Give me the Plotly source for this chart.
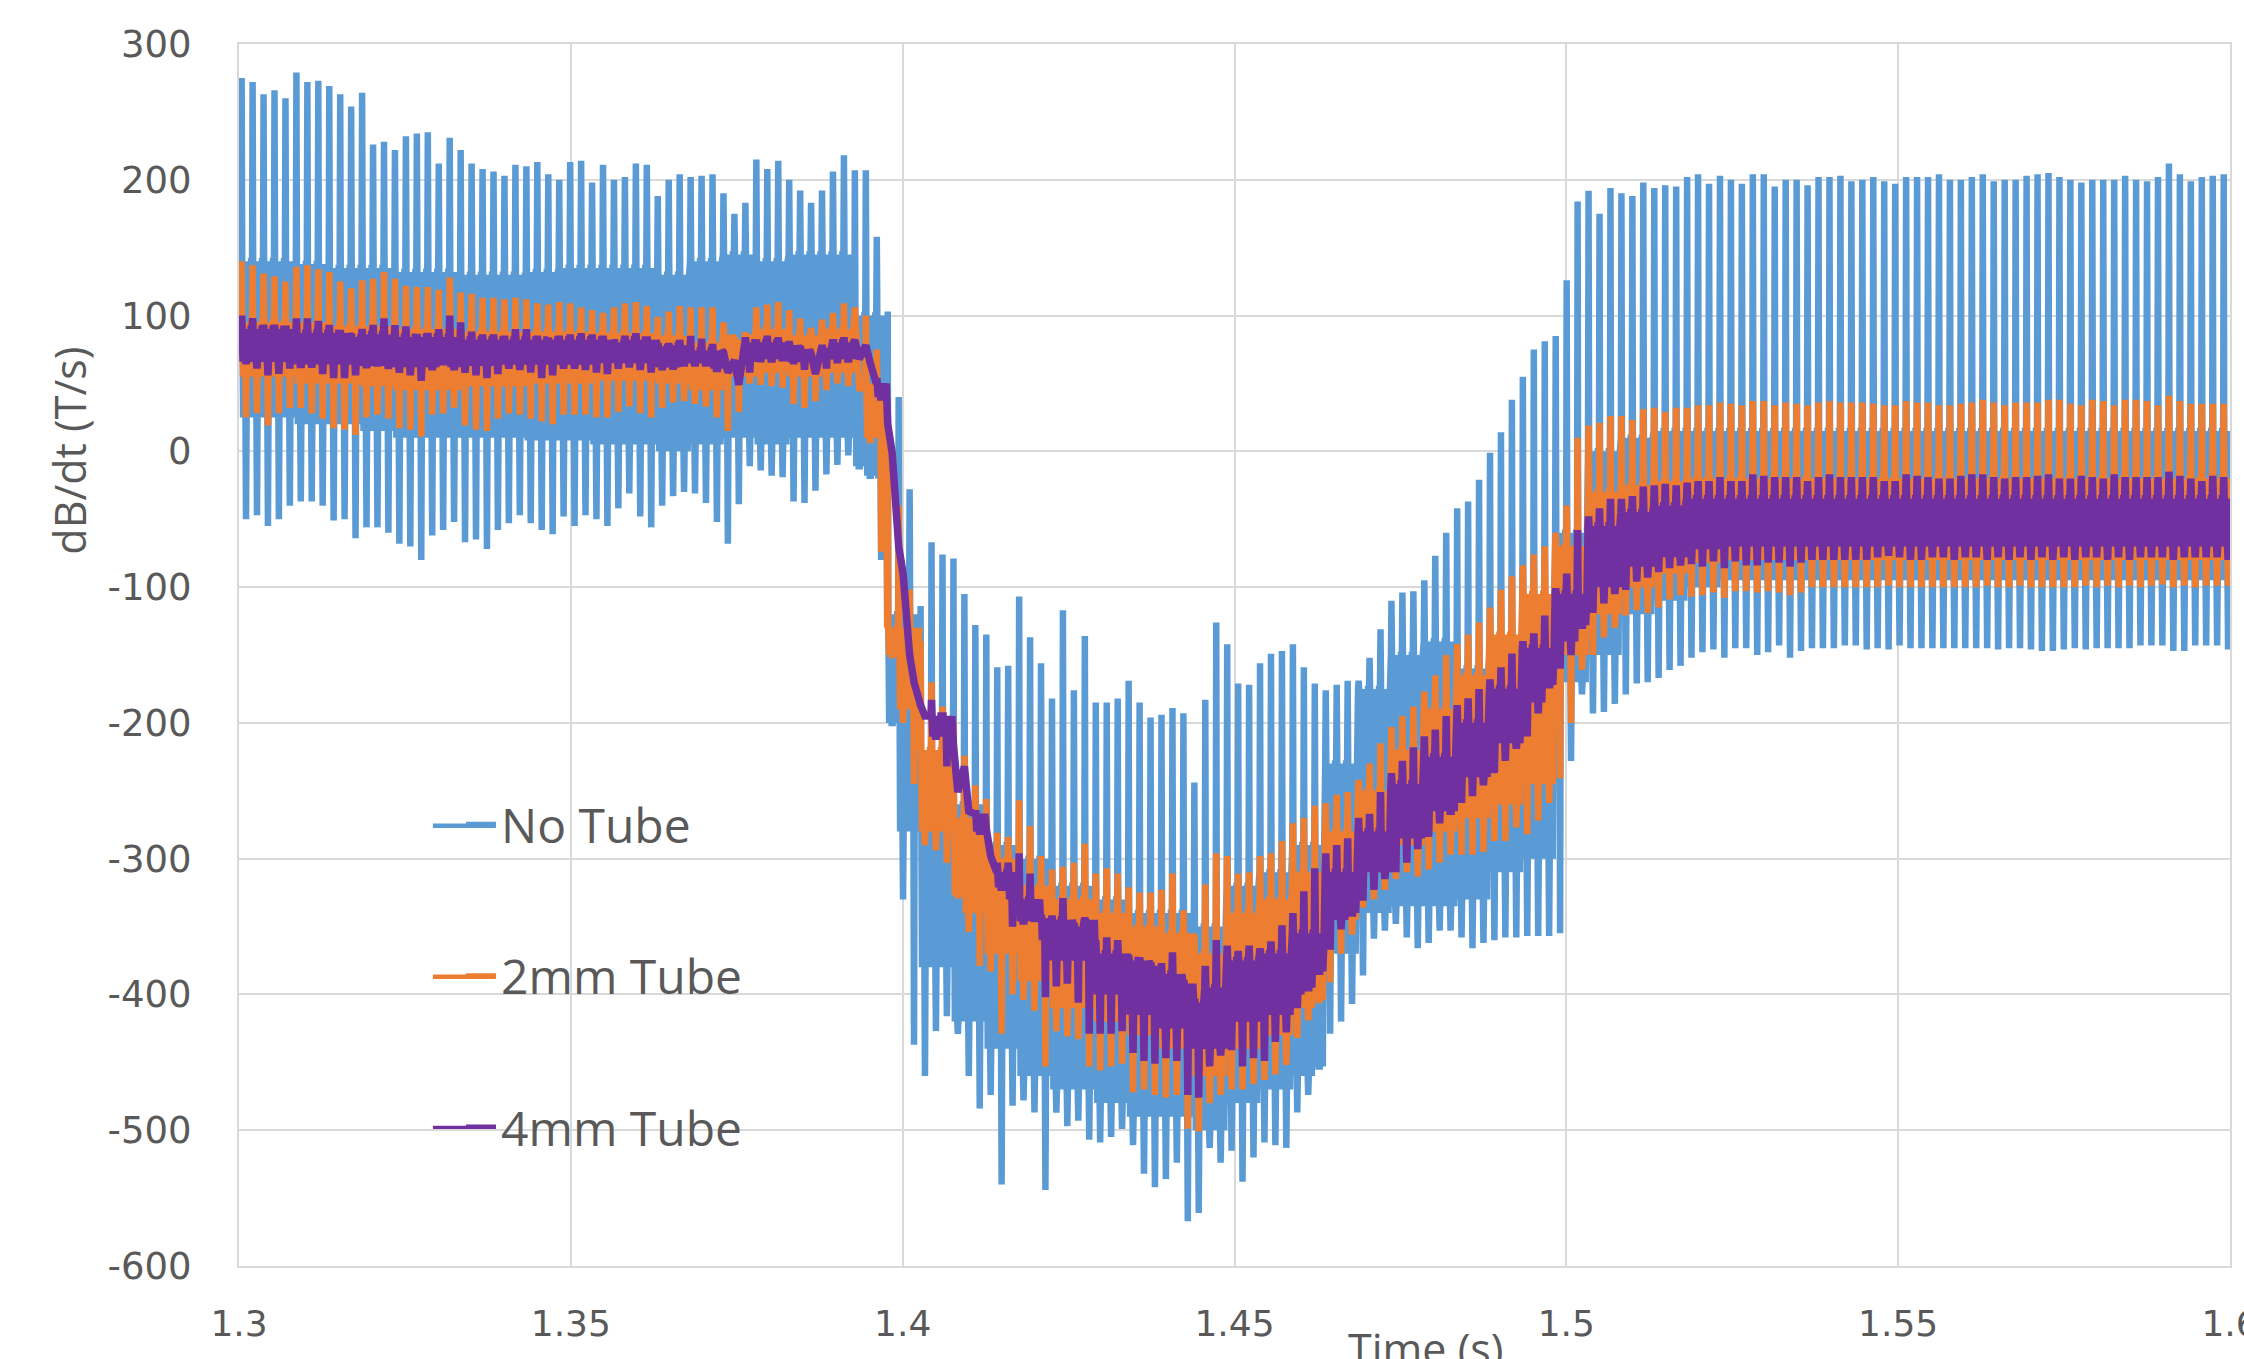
import plotly.graph_objects as go

# ---------------- data ----------------
# One oscillation cycle every PERIOD seconds, first cycle at T_START.
T_START = 1.3004
PERIOD = 0.00165

# Per-cycle upper spike (hi) and lower spike (lo) values, dB/dt in T/s
BLUE_HI = [
    275, 272, 263, 266, 260, 279, 272, 273, 269, 263,
    254, 264, 226, 228, 222, 232, 234, 235, 212, 231,
    222, 212, 208, 206, 203, 211, 210, 213, 204, 200,
    213, 214, 198, 211, 200, 202, 212, 211, 188, 200,
    204, 202, 203, 204, 190, 175, 183, 215, 208, 214,
    200, 192, 183, 192, 206, 218, 207, 207, 158, 103,
    40, -28, -114, -67, -76, -79, -105, -128, -135, -159,
    -158, -107, -137, -156, -182, -117, -176, -136, -185, -185,
    -182, -169, -185, -196, -194, -189, -193, -244, -183, -126,
    -142, -171, -172, -156, -149, -147, -142, -159, -171, -176,
    -172, -169, -169, -152, -131, -110, -104, -103, -95, -77,
    -60, -42, -37, -21, -1, 14, 38, 55, 75, 81,
    85, 126, 184, 192, 175, 194, 190, 188, 198, 194,
    196, 195, 202, 204, 197, 203, 200, 197, 204, 204,
    195, 200, 200, 196, 202, 202, 203, 199, 200, 202,
    199, 197, 202, 202, 202, 204, 200, 200, 202, 204,
    199, 200, 200, 203, 204, 205, 202, 200, 198, 200,
    200, 200, 203, 200, 199, 202, 212, 204, 199, 202,
    203, 204,
]
BLUE_LO = [
    -50, -47, -55, -50, -40, -37, -37, -40, -51, -50,
    -64, -56, -56, -60, -68, -70, -80, -62, -58, -52,
    -67, -65, -72, -58, -53, -47, -53, -58, -61, -48,
    -55, -47, -50, -55, -42, -31, -48, -56, -40, -33,
    -30, -31, -38, -52, -68, -39, -11, -14, -18, -19,
    -37, -38, -29, -17, -10, -3, -11, -18, -80, -200,
    -330, -437, -460, -427, -416, -429, -460, -484, -474, -540,
    -482, -478, -487, -544, -487, -497, -493, -507, -509, -505,
    -499, -511, -532, -542, -536, -524, -567, -561, -513, -524,
    -515, -538, -520, -509, -511, -513, -487, -474, -453, -429,
    -420, -407, -386, -359, -353, -348, -358, -366, -362, -353,
    -353, -358, -366, -362, -360, -358, -358, -357, -357, -357,
    -355, -228, -179, -193, -192, -186, -179, -171, -170, -167,
    -161, -158, -152, -148, -146, -152, -145, -145, -150, -148,
    -143, -152, -147, -145, -145, -145, -143, -143, -146, -145,
    -146, -143, -145, -145, -145, -145, -145, -145, -145, -145,
    -146, -145, -145, -146, -147, -147, -146, -145, -146, -145,
    -145, -145, -145, -143, -143, -143, -147, -147, -143, -143,
    -143, -146,
]
ORANGE_HI = [
    140, 137, 131, 129, 125, 136, 137, 134, 132, 125,
    120, 126, 127, 132, 127, 122, 121, 121, 119, 128,
    117, 116, 113, 113, 112, 113, 112, 109, 108, 110,
    109, 106, 104, 102, 106, 109, 110, 107, 99, 103,
    107, 106, 106, 106, 95, 82, 87, 106, 108, 110,
    104, 98, 91, 97, 102, 109, 106, 100, 75, 21,
    -40, -102, -140, -170, -188, -199, -224, -246, -256, -281,
    -284, -257, -276, -298, -308, -306, -303, -289, -311, -307,
    -311, -321, -325, -325, -323, -311, -338, -356, -319, -296,
    -298, -311, -310, -298, -296, -287, -274, -270, -261, -259,
    -253, -251, -242, -230, -215, -203, -195, -188, -177, -165,
    -150, -142, -135, -126, -115, -102, -92, -84, -76, -70,
    -60, -40, 10, 19, 21, 26, 26, 23, 31, 32,
    29, 32, 32, 34, 34, 36, 35, 34, 37, 37,
    34, 36, 35, 34, 36, 37, 36, 36, 36, 35,
    34, 34, 37, 36, 36, 34, 34, 35, 36, 38,
    36, 34, 36, 36, 36, 38, 38, 35, 34, 38,
    37, 34, 38, 38, 37, 34, 41, 37, 35, 35,
    35, 35,
]
ORANGE_LO = [
    25, 28, 19, 28, 32, 32, 28, 24, 17, 16,
    12, 25, 27, 24, 17, 16, 11, 27, 28, 32,
    19, 16, 15, 24, 28, 27, 24, 22, 20, 27,
    27, 27, 25, 25, 29, 33, 28, 25, 32, 36,
    37, 35, 33, 25, 15, 29, 50, 49, 48, 47,
    35, 32, 37, 45, 50, 48, 45, 6, -74, -150,
    -200, -245, -290, -294, -303, -327, -354, -379, -383, -429,
    -400, -404, -412, -453, -427, -431, -433, -453, -456, -453,
    -451, -472, -470, -474, -476, -474, -499, -501, -480, -474,
    -470, -470, -466, -463, -459, -452, -432, -419, -404, -391,
    -370, -356, -336, -330, -323, -315, -310, -313, -308, -303,
    -297, -297, -297, -295, -287, -287, -277, -282, -272, -259,
    -241, -200, -161, -150, -137, -130, -121, -117, -119, -115,
    -109, -106, -107, -106, -104, -108, -103, -103, -104, -103,
    -104, -106, -104, -100, -100, -100, -100, -100, -100, -100,
    -99, -100, -100, -100, -100, -100, -100, -100, -100, -99,
    -100, -100, -99, -100, -100, -100, -100, -100, -99, -100,
    -99, -100, -99, -100, -99, -98, -100, -99, -100, -99,
    -99, -99,
]
PURPLE_HI = [
    100, 98, 93, 93, 90, 98, 98, 96, 93, 89,
    84, 90, 93, 98, 93, 92, 86, 87, 90, 100,
    95, 88, 86, 86, 85, 90, 90, 85, 83, 85,
    86, 87, 86, 85, 80, 85, 87, 82, 77, 79,
    82, 85, 83, 79, 73, 67, 84, 82, 85, 84,
    81, 75, 72, 76, 80, 84, 82, 78, 54, 20,
    -70, -150, -187, -183, -195, -216, -232, -267, -278, -303,
    -303, -296, -311, -344, -342, -329, -350, -344, -360, -358,
    -360, -371, -373, -379, -377, -369, -392, -406, -379, -360,
    -364, -368, -364, -366, -361, -349, -340, -324, -307, -296,
    -290, -285, -270, -267, -251, -237, -228, -218, -210, -205,
    -195, -187, -182, -175, -168, -159, -149, -140, -134, -121,
    -101, -90, -58, -48, -42, -35, -35, -33, -26, -25,
    -24, -25, -23, -22, -22, -19, -22, -22, -17, -18,
    -19, -19, -19, -22, -19, -17, -19, -19, -19, -19,
    -22, -22, -17, -18, -19, -20, -20, -18, -17, -17,
    -19, -20, -19, -19, -18, -17, -20, -20, -18, -19,
    -20, -17, -19, -19, -19, -19, -15, -18, -20, -22,
    -18, -19,
]
PURPLE_LO = [
    65, 61, 56, 57, 61, 64, 62, 57, 54, 54,
    56, 62, 65, 61, 58, 56, 52, 60, 66, 60,
    58, 56, 54, 57, 61, 60, 58, 54, 56, 61,
    61, 60, 58, 57, 61, 62, 60, 58, 60, 61,
    65, 65, 65, 61, 58, 49, 58, 66, 68, 69,
    65, 60, 57, 61, 65, 68, 68, 65, 40, -1,
    -90, -170, -195, -212, -232, -251, -265, -282, -298, -321,
    -350, -346, -344, -402, -394, -392, -406, -429, -429, -429,
    -427, -443, -449, -451, -447, -449, -474, -476, -453, -445,
    -441, -453, -447, -449, -435, -428, -410, -395, -383, -367,
    -352, -340, -331, -323, -315, -310, -303, -293, -284, -274,
    -265, -259, -254, -246, -237, -228, -219, -210, -193, -172,
    -160, -150, -128, -119, -112, -105, -102, -96, -93, -89,
    -86, -84, -83, -85, -81, -86, -81, -84, -84, -82,
    -82, -85, -82, -80, -80, -80, -80, -80, -80, -78,
    -77, -78, -80, -80, -78, -78, -80, -78, -78, -80,
    -78, -80, -78, -80, -78, -80, -78, -80, -78, -78,
    -80, -78, -80, -78, -78, -78, -80, -78, -78, -78,
    -78, -80,
]

# Edges of the dense (solid-looking) band of each trace, read every 5 ms (1.300 ... 1.600)
KNOT_START = 1.300
KNOT_STEP = 0.005
BLUE_BAND_TOP = [
    140, 140, 138, 135, 135, 132, 132, 130, 130, 132,
    135, 135, 135, 130, 140, 145, 140, 145, 145, 100,
    -120, -230, -260, -290, -300, -320, -330, -340, -340, -350,
    -320, -310, -290, -230, -175, -150, -140, -160, -150, -125,
    -60, 0, 10, 15, 15, 15, 15, 15, 15, 15,
    15, 15, 15, 15, 15, 15, 15, 15, 15, 15, 15,
]
BLUE_BAND_BOTTOM = [
    25, 25, 20, 20, 15, 10, 10, 10, 10, 8,
    8, 5, 5, 0, 5, 10, 5, 10, 10, -20,
    -280, -380, -420, -440, -460, -470, -480, -490, -490, -500,
    -480, -470, -460, -370, -340, -335, -335, -330, -310, -300,
    -170, -150, -120, -110, -100, -95, -95, -95, -95, -95,
    -95, -95, -95, -95, -95, -95, -95, -95, -95, -95, -95,
]
ORANGE_BAND_TOP = [
    95, 95, 95, 92, 92, 90, 90, 88, 88, 88,
    88, 87, 87, 85, 80, 86, 90, 85, 90, 50,
    -130, -220, -270, -300, -320, -330, -340, -350, -355, -370,
    -340, -330, -310, -280, -250, -220, -190, -165, -135, -105,
    -70, -30, -25, -22, -20, -20, -20, -20, -20, -20,
    -20, -20, -20, -20, -20, -20, -20, -20, -20, -20, -20,
]
ORANGE_BAND_BOTTOM = [
    55, 55, 50, 50, 48, 45, 45, 48, 48, 50,
    50, 52, 52, 50, 45, 55, 58, 55, 58, 10,
    -190, -280, -340, -370, -390, -410, -420, -430, -440, -460,
    -440, -430, -410, -345, -310, -290, -280, -270, -260, -245,
    -150, -120, -100, -90, -82, -80, -80, -80, -80, -80,
    -80, -80, -80, -80, -80, -80, -80, -80, -80, -80, -80,
]
PURPLE_BAND_TOP = [
    90, 90, 87, 87, 86, 84, 84, 82, 82, 82,
    82, 82, 82, 78, 74, 80, 80, 78, 80, 50,
    -90, -195, -260, -310, -330, -345, -370, -375, -385, -395,
    -375, -370, -355, -310, -280, -245, -225, -200, -175, -145,
    -105, -55, -45, -40, -35, -35, -35, -35, -35, -35,
    -35, -35, -35, -35, -35, -35, -35, -35, -35, -35, -35,
]
PURPLE_BAND_BOTTOM = [
    66, 66, 64, 64, 63, 62, 62, 63, 64, 64,
    64, 65, 65, 62, 58, 66, 68, 66, 68, 30,
    -110, -210, -280, -330, -360, -375, -400, -415, -425, -440,
    -420, -415, -400, -345, -310, -285, -265, -240, -215, -185,
    -140, -100, -85, -78, -72, -70, -70, -70, -70, -70,
    -70, -70, -70, -70, -70, -70, -70, -70, -70, -70, -70,
]

SERIES_NAMES = ["No Tube", "2mm Tube", "4mm Tube"]
SERIES_COLORS = ["#5B9BD5", "#ED7D31", "#7030A0"]
X_TICKS = [1.3, 1.35, 1.4, 1.45, 1.5, 1.55, 1.6]
X_TICK_LABELS = ["1.3", "1.35", "1.4", "1.45", "1.5", "1.55", "1.6"]
Y_TICKS = [300, 200, 100, 0, -100, -200, -300, -400, -500, -600]
Y_TICK_LABELS = ["300", "200", "100", "0", "-100", "-200", "-300", "-400", "-500", "-600"]

# ---------------- build the sampled waveform of each cycle ----------------
# position of each sample inside a cycle (fraction of the period)
PHASES = [-0.05, 0.0, 0.05, 0.13, 0.26, 0.35, 0.40, 0.45, 0.60, 0.73, 0.86]
SPIKE_PHASES = [0.0, 0.40]


def waveform(hi, lo, band_top, band_bottom):
    xs, ys = [], []
    for k, (h, l) in enumerate(zip(hi, lo)):
        t = T_START + k * PERIOD
        j = min(int(round((t - KNOT_START) / KNOT_STEP)), len(band_top) - 1)
        top = min(max(band_top[j], l), h)
        bot = min(max(band_bottom[j], l), top)
        if top - bot < 8:
            # no dense band in this cycle: just the up and down spike
            phases, vals = SPIKE_PHASES, [h, l]
        else:
            phases = PHASES
            vals = [top, h, top, bot, top, bot, l, bot, top, bot, top]
        for f, v in zip(phases, vals):
            xs.append(t + f * PERIOD)
            ys.append(v)
    return xs, ys


series = [
    (BLUE_HI, BLUE_LO, BLUE_BAND_TOP, BLUE_BAND_BOTTOM, 6.5),
    (ORANGE_HI, ORANGE_LO, ORANGE_BAND_TOP, ORANGE_BAND_BOTTOM, 6.5),
    (PURPLE_HI, PURPLE_LO, PURPLE_BAND_TOP, PURPLE_BAND_BOTTOM, 7.5),
]

fig = go.Figure()
for (hi, lo, bt, bb, width), name, color in zip(series, SERIES_NAMES, SERIES_COLORS):
    xs, ys = waveform(hi, lo, bt, bb)
    fig.add_trace(go.Scatter(
        x=xs, y=ys, mode="lines", name=name, legendgroup=name, showlegend=False,
        line=dict(color=color, width=width, simplify=False),
        hoverinfo="skip",
    ))
# legend entries (thin line keys as in the original legend)
for name, color in zip(SERIES_NAMES, SERIES_COLORS):
    fig.add_trace(go.Scatter(
        x=[None], y=[None], mode="lines", name=name, legendgroup=name,
        line=dict(color=color, width=4.5), hoverinfo="skip",
    ))

TEXT_GREY = "#595959"
GRID = "#d9d9d9"

# longer legend keys: one continuous key line per entry, under the legend's own key
LEGEND_KEY_Y = [0.3602, 0.2366, 0.1130]
key_shapes = [
    dict(type="line", xref="paper", yref="paper", x0=0.0974, x1=0.1290, y0=ky, y1=ky,
         line=dict(color=c, width=4.5), layer="between")
    for ky, c in zip(LEGEND_KEY_Y, SERIES_COLORS)
]

fig.update_layout(
    width=2244, height=1359,
    margin=dict(l=239, r=14, t=44, b=93),
    paper_bgcolor="white", plot_bgcolor="white",
    showlegend=True,
    legend=dict(
        x=0.1115, y=0.3925, xanchor="left", yanchor="top",
        bgcolor="rgba(0,0,0,0)", borderwidth=0,
        font=dict(family="Open Sans", size=48, color=TEXT_GREY),
        tracegroupgap=86,
    ),
    xaxis=dict(
        range=[1.3, 1.6], tickmode="array", tickvals=X_TICKS, ticktext=X_TICK_LABELS,
        showgrid=True, gridcolor=GRID, gridwidth=2,
        showline=True, linecolor=GRID, linewidth=2, mirror=True,
        ticks="outside", ticklen=25, tickcolor="rgba(0,0,0,0)",
        tickfont=dict(family="DejaVu Sans", size=36, color=TEXT_GREY),
        ticklabeloverflow="allow",
        zeroline=False, automargin=False,
    ),
    yaxis=dict(
        range=[-600, 300], tickmode="array", tickvals=Y_TICKS, ticktext=Y_TICK_LABELS,
        showgrid=True, gridcolor=GRID, gridwidth=2,
        showline=True, linecolor=GRID, linewidth=2, mirror=True,
        ticks="outside", ticklen=38, tickcolor="rgba(0,0,0,0)",
        tickfont=dict(family="DejaVu Sans", size=37, color=TEXT_GREY),
        zeroline=False, automargin=False,
    ),
    shapes=[dict(
        type="rect", xref="paper", yref="paper",
        x0=0.0703, x1=0.2772, y0=0.0524, y1=0.4216,
        fillcolor="white", line=dict(width=0), layer="between",
    )] + key_shapes,
    annotations=[
        dict(text="dB/dt (T/s)", xref="paper", yref="paper", x=-0.0849, y=0.6672,
             xanchor="center", yanchor="middle", textangle=-90, showarrow=False,
             font=dict(family="Open Sans", size=43, color=TEXT_GREY)),
        dict(text="Time (s)", xref="paper", yref="paper", x=0.5962, y=-0.0417,
             xanchor="center", yanchor="top", showarrow=False,
             font=dict(family="Open Sans", size=43, color=TEXT_GREY)),
    ],
)

fig.write_html("out.html")
